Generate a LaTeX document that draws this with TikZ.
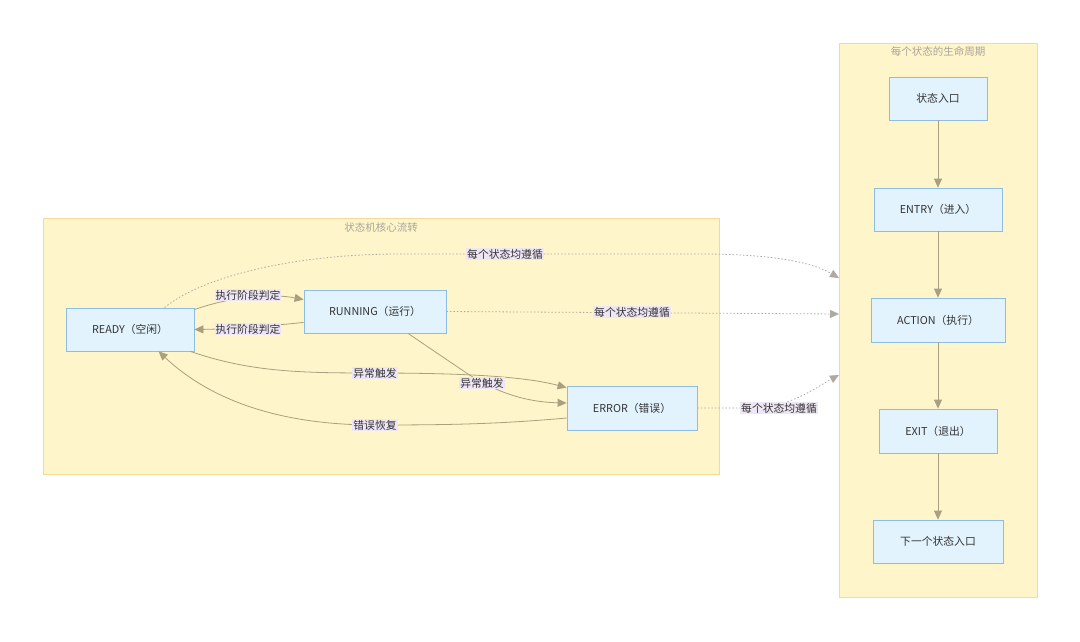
\documentclass[tikz,border=0pt]{standalone}
\usepackage{fontspec}
\setmainfont{Noto Sans CJK SC}
\usetikzlibrary{arrows.meta}
\definecolor{clfill}{HTML}{FFF5CA}
\definecolor{cldraw}{HTML}{F7D995}
\definecolor{ndfill}{HTML}{E2F3FD}
\definecolor{nddraw}{HTML}{8DBDE3}
\definecolor{edgec}{HTML}{A8A07E}
\definecolor{dotc}{HTML}{AEAAA2}
\definecolor{lblbg}{HTML}{EEE6F5}
\definecolor{txt}{HTML}{333333}
\definecolor{ttl}{HTML}{A8A49A}
\tikzset{
  cluster/.style={draw=cldraw, fill=clfill, line width=0.8pt},
  ttlstyle/.style={text=ttl, font=\fontsize{10.5}{12}\selectfont, inner sep=0pt},
  box/.style={draw=nddraw, fill=ndfill, line width=0.8pt, text=txt, font=\fontsize{10.8}{12}\selectfont, inner sep=0pt},
  edge/.style={draw=edgec, line width=0.8pt, -{Triangle[length=9pt,width=8pt,fill=edgec]}},
  dotedge/.style={draw=dotc, line width=0.8pt, dash pattern=on 1.5pt off 2pt, -{Triangle[length=9pt,width=8pt,fill=dotc]}},
  lbl/.style={fill=lblbg, text=txt, font=\fontsize{10.8}{12}\selectfont, inner sep=1pt}
}
\begin{document}
\begin{tikzpicture}[x=1pt,y=-1pt]
\useasboundingbox (0,0) rectangle (1080,641);
\fill[white] (0,0) rectangle (1080,641);
% clusters
\draw[cluster] (43,218) rectangle (719,474);
\node[ttlstyle] (t1) at (381,227) {状态机核心流转};
\draw[cluster] (839,43) rectangle (1037,597);
\node[ttlstyle] (t2) at (938,51) {每个状态的生命周期};
\coordinate (c1) at (839,278);
\coordinate (c2) at (839,314);
\coordinate (c3) at (839,375);
% nodes
\node[box, minimum width=128pt, minimum height=43pt] (ready) at (130,329.5) {READY（空闲）};
\node[box, minimum width=142pt, minimum height=43pt] (running) at (375,311.5) {RUNNING（运行）};
\node[box, minimum width=130pt, minimum height=44pt] (error) at (632,408) {ERROR（错误）};
\node[box, minimum width=98pt, minimum height=43pt] (s0) at (938,98.5) {状态入口};
\node[box, minimum width=128pt, minimum height=43pt] (s1) at (938,209.5) {ENTRY（进入）};
\node[box, minimum width=134pt, minimum height=44pt] (s2) at (938,320) {ACTION（执行）};
\node[box, minimum width=118pt, minimum height=44pt] (s3) at (938,431) {EXIT（退出）};
\node[box, minimum width=130pt, minimum height=43pt] (s4) at (938,541.5) {下一个状态入口};
% vertical edges
\draw[edge] (s0.south) -- (s1.north);
\draw[edge] (s1.south) -- (s2.north);
\draw[edge] (s2.south) -- (s3.north);
\draw[edge] (s3.south) -- (s4.north);
% dotted edges
\draw[dotedge] ([xshift=99pt]ready.north west) .. controls (200,278) and (290,254) .. (400,254) -- (700,254) .. controls (780,254) and (815,264) .. (c1);
\node[lbl] (l6) at (505,254) {每个状态均遵循};
\draw[dotedge] (running.east) -- (c2);
\node[lbl] (l7) at (632,312) {每个状态均遵循};
\draw[dotedge] (error.east) -- (760,408) .. controls (795,404) and (815,388) .. (c3);
\node[lbl] (l8) at (779,408) {每个状态均遵循};
% core edges
\draw[edge] ([yshift=-2pt]ready.north east) .. controls (230,297) and (270,293) .. ([yshift=-10pt]running.north west);
\node[lbl] (l1) at (248,295) {执行阶段判定};
\draw[edge] ([yshift=11pt]running.south west) .. controls (270,326) and (230,329) .. (ready.east);
\node[lbl] (l2) at (248,329) {执行阶段判定};
\draw[edge] ([xshift=-4pt]ready.south east) .. controls (250,372) and (300,373) .. (375,373) .. controls (480,373) and (530,378) .. ([yshift=-2pt]error.north west);
\node[lbl] (l3) at (375,373) {异常触发};
\draw[edge] ([xshift=33pt]running.south) -- (465,372) .. controls (495,392) and (525,402) .. ([yshift=5pt]error.west);
\node[lbl] (l4) at (482,383) {异常触发};
\draw[edge] ([yshift=-10pt]error.west) .. controls (500,424) and (450,425) .. (375,425) .. controls (270,425) and (205,395) .. ([xshift=93pt]ready.south west);
\node[lbl] (l5) at (375,425) {错误恢复};
\end{tikzpicture}
\end{document}
